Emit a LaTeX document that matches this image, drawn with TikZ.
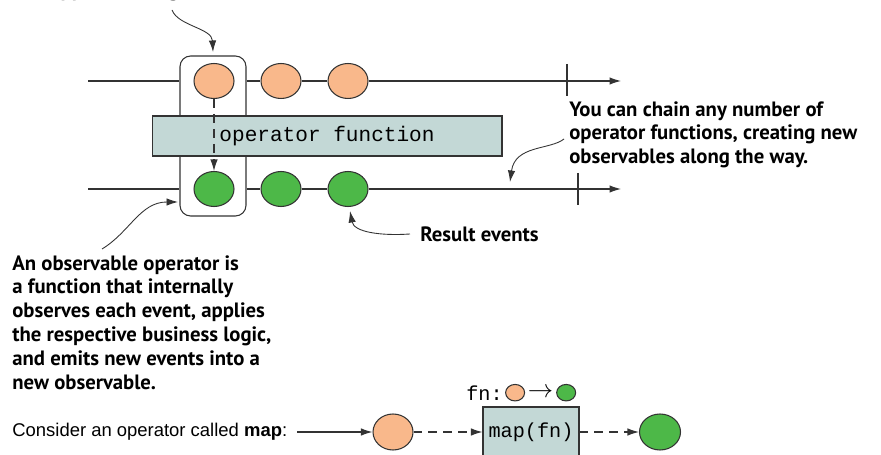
\documentclass[tikz,border=0pt]{standalone}
\usepackage{fontspec}
\setmainfont{PT Sans}
\setsansfont{Liberation Sans}
\setmonofont{Liberation Mono}
\usetikzlibrary{arrows.meta,positioning,shapes.geometric}
\definecolor{evorange}{HTML}{F9B88B}
\definecolor{evgreen}{HTML}{4DB848}
\definecolor{opfill}{HTML}{C3D8D6}
\definecolor{ink}{HTML}{333333}
\tikzset{
  evline/.style={draw=ink,line width=0.6pt},
  arr/.style={-{Latex[length=2.3mm,width=1.5mm]}},
  dashline/.style={dash pattern=on 5pt off 3.5pt},
  orev/.style={ellipse,draw=ink,line width=0.6pt,fill=evorange,minimum width=0.8cm,minimum height=0.7cm,inner sep=0pt},
  grev/.style={orev,fill=evgreen},
  opbox/.style={rectangle,draw=ink,line width=0.6pt,fill=opfill,inner sep=0pt},
  note/.style={font=\bfseries\fontsize{11.8}{13.6}\selectfont,align=left,inner sep=0pt},
  notearr/.style={draw=ink,line width=0.5pt,-{Latex[length=2.3mm,width=1.5mm]}}
}

\begin{document}
\begin{tikzpicture}[x=0.02cm,y=-0.02cm]
        \useasboundingbox (0,0) rectangle (881,455);
        % caption cut off at the top
        \node[note,anchor=base west] (lead) at (12,-3) {It is applied during the event stream.};
        \draw[notearr] (172,10) .. controls (178,26) and (212,28) .. (213,52);
        % source and result events
        \node[orev] (o1) at (214,81) {};
        \node[orev] (o2) at (281,81) {};
        \node[orev] (o3) at (348,81) {};
        \node[grev] (g1) at (214,189) {};
        \node[grev] (g2) at (281,189) {};
        \node[grev] (g3) at (348,189) {};
        \node[draw=ink,line width=0.6pt,rounded corners=6pt,minimum width=1.32cm,minimum height=3.2cm] (sel) at (213,136) {};
        \coordinate (a0) at (88,81);
        \coordinate (a1) at (621,81);
        \coordinate (b0) at (88,189);
        \coordinate (b1) at (621,189);
        \draw[evline] (a0) -- (sel.west |- a0);
        \draw[evline] (sel.east |- a0) -- (o2) -- (o3);
        \draw[evline,arr] (o3) -- (a1);
        \draw[evline] (b0) -- (sel.west |- b0);
        \draw[evline] (sel.east |- b0) -- (g2) -- (g3);
        \draw[evline,arr] (g3) -- (b1);
        \draw[evline] (567,64) -- (567,96);
        \draw[evline] (578,173) -- (578,205);
        \node[opbox,minimum width=7cm,minimum height=0.8cm,font=\ttfamily\fontsize{12}{14}\selectfont] (op) at (327,136) {operator function};
        \draw[evline,dashline,arr] (o1) -- (g1);
        % notes
        \node[note,anchor=north west] (chain) at (569,101) {You can chain any number of\\operator functions, creating new\\observables along the way.};
        \draw[notearr] (564,139) .. controls (550,150) and (515,145) .. (510,182);
        \node[note,anchor=north west] (opnote) at (12,255) {An observable operator is\\a function that internally\\observes each event, applies\\the respective business logic,\\and emits new events into a\\new observable.};
        \draw[notearr] (102,249) .. controls (130,232) and (140,202) .. (178,202);
        \node[note,anchor=base west] (result) at (420,242) {Result events};
        \draw[notearr] (410,234) .. controls (380,236) and (354,232) .. (350,211);
        % map example
        \node[anchor=base west,inner sep=0pt,font=\sffamily\fontsize{10.5}{12}\selectfont] (consider) at (12,436) {Consider an operator called \textbf{map}:};
        \coordinate (c0) at (297,432);
        \node[orev,minimum width=0.8cm,minimum height=0.72cm] (mo) at (393,432) {};
        \node[opbox,minimum width=1.92cm,minimum height=1.0cm,font=\ttfamily\fontsize{11.5}{13}\selectfont] (mbox) at (531,432) {map(fn)};
        \node[grev,minimum width=0.82cm,minimum height=0.72cm] (mg) at (660,432) {};
        \draw[evline,arr] (c0) -- (mo);
        \draw[evline,dashline,arr] (mo) -- (mbox);
        \draw[evline,dashline,arr] (mbox) -- (mg);
        \node[anchor=base west,inner sep=0pt,font=\ttfamily\fontsize{11.5}{13}\selectfont] (fn) at (466,400) {fn:};
        \node[orev,minimum width=0.38cm,minimum height=0.33cm,right=0.04cm of fn] (so) {};
        \node[inner sep=0pt,font=\fontsize{15}{16}\selectfont,right=0.05cm of so] (to) {$\rightarrow$};
        \node[grev,minimum width=0.38cm,minimum height=0.33cm,right=0.05cm of to] (sg) {};
\end{tikzpicture}
\end{document}
